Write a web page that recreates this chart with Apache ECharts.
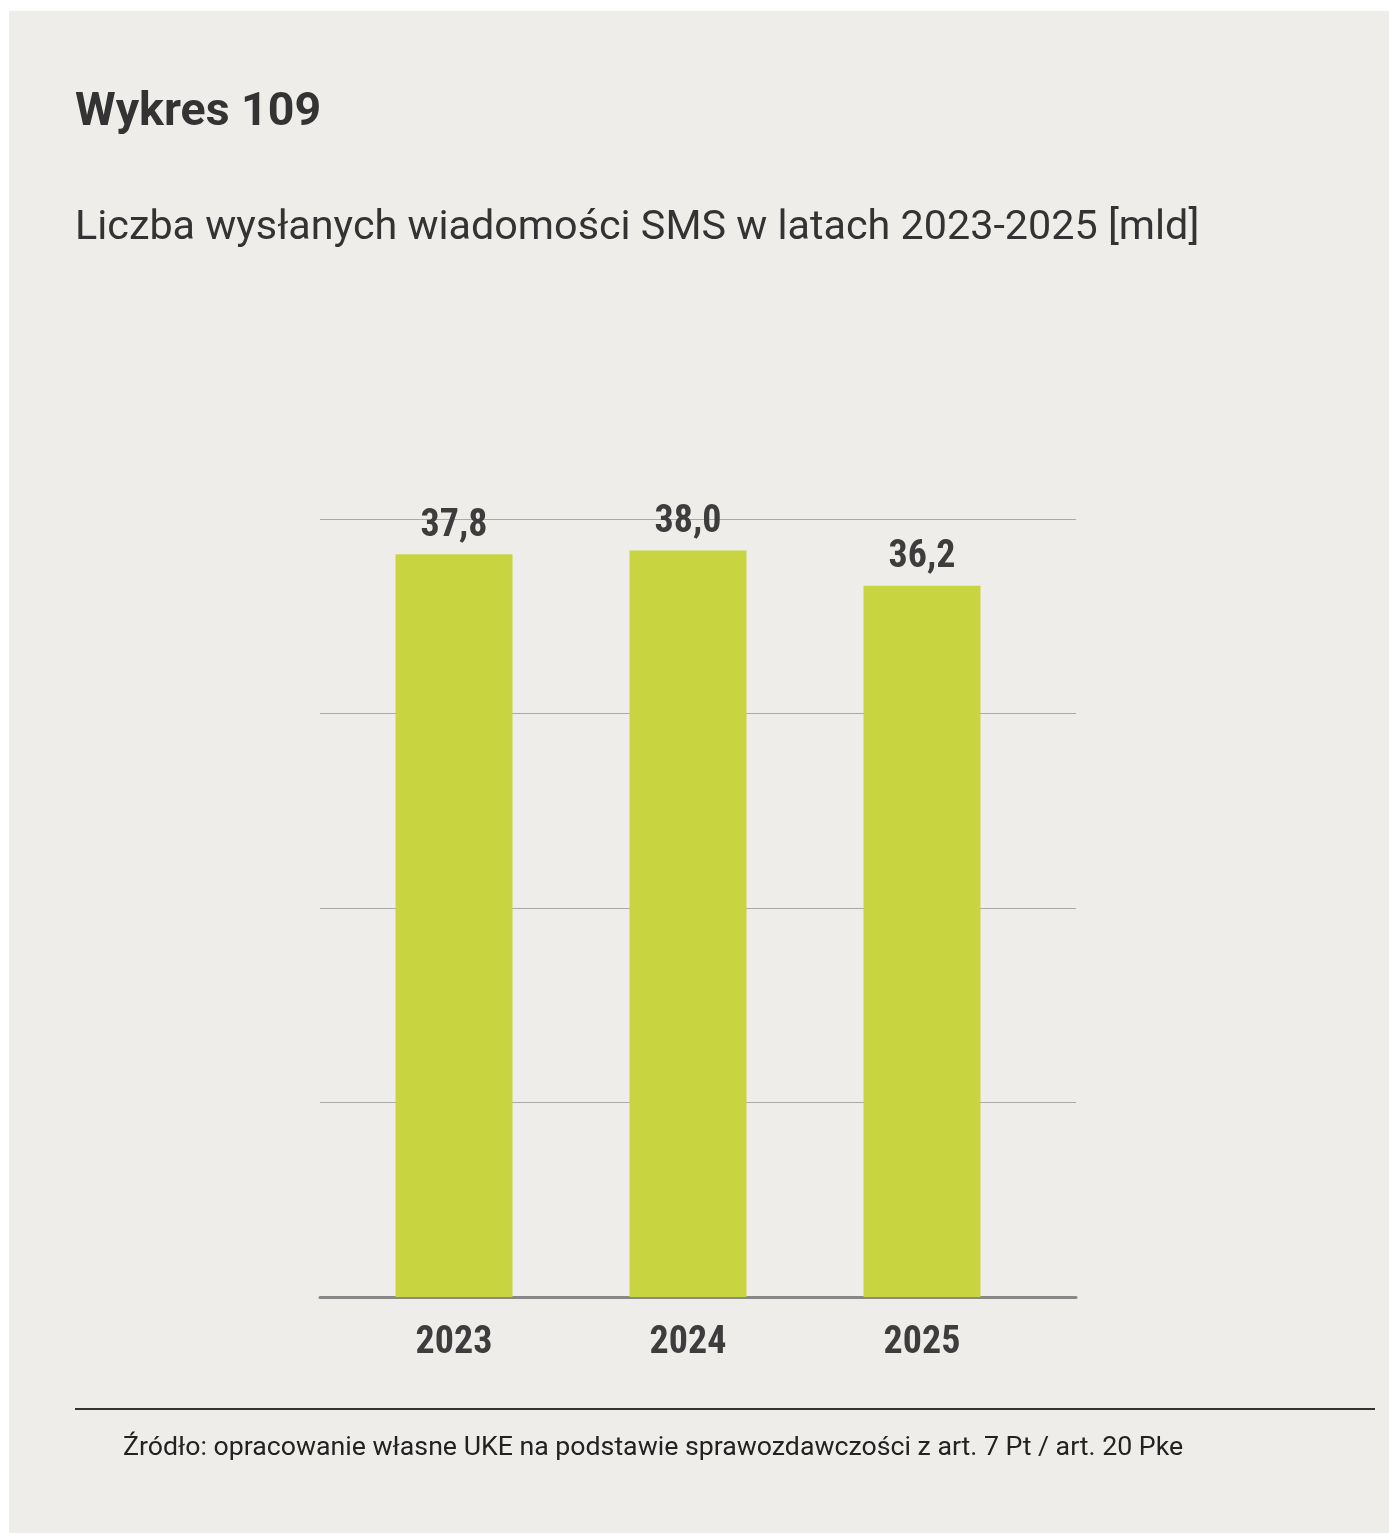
<!DOCTYPE html>
<html>
<head>
<meta charset="utf-8">
<script src="https://cdn.jsdelivr.net/npm/echarts@6/dist/echarts.min.js"></script>
<style>
html,body{margin:0;padding:0;background:#ffffff;}
#c{position:absolute;left:9px;top:11px;width:1380px;height:1522px;}
</style>
</head>
<body>
<div id="c"></div>
<script>
const categories = ['2023', '2024', '2025'];
const values = [37.8, 38.0, 36.2];
const axisMax = 39.6;
const axisInterval = 9.9;
const titleText = 'Wykres 109';
const subtitleText = 'Liczba wysłanych wiadomości SMS w latach 2023-2025 [mld]';
const sourceText = 'Źródło: opracowanie własne UKE na podstawie sprawozdawczości z art. 7 Pt / art. 20 Pke';

const numFont = '"Roboto Condensed", "Roboto", sans-serif';
const chart = echarts.init(document.getElementById('c'));
chart.setOption({
  backgroundColor: '#efedea',
  animation: false,
  title: [
    { text: titleText, left: 61, top: 74,
      textStyle: { fontFamily: 'Roboto', fontWeight: 'bold', fontSize: 46.5, color: '#333333' } },
    { text: subtitleText, left: 61, top: 192,
      textStyle: { fontFamily: 'Roboto', fontWeight: 'normal', fontSize: 41.3, color: '#333333' } },
    { text: sourceText, left: 109, top: 1419,
      textStyle: { fontFamily: 'Roboto', fontWeight: 'normal', fontSize: 26.7, color: '#222222' } }
  ],
  graphic: [
    { type: 'line', shape: { x1: 66, y1: 1398, x2: 1366, y2: 1398 },
      style: { stroke: '#333333', lineWidth: 2 }, silent: true }
  ],
  grid: [
    { left: 311, width: 756, top: 508, height: 778 },
    { left: 328, width: 702, top: 508, height: 778 }
  ],
  xAxis: [
    { type: 'category', gridIndex: 0, data: categories,
      axisLine: { show: true, lineStyle: { color: '#888888', width: 3 } },
      axisTick: { show: false }, axisLabel: { show: false }, splitLine: { show: false } },
    { type: 'category', gridIndex: 1, data: categories,
      axisLine: { show: false }, axisTick: { show: false },
      axisLabel: { show: true, margin: 27, fontFamily: numFont, fontWeight: 'bold', fontSize: 38, color: '#3d3d3d' } }
  ],
  yAxis: [
    { type: 'value', gridIndex: 0, min: 0, max: axisMax, interval: axisInterval,
      axisLine: { show: false }, axisTick: { show: false }, axisLabel: { show: false },
      splitLine: { show: true, lineStyle: { color: '#aaaaaa', width: 1 } } },
    { type: 'value', gridIndex: 1, min: 0, max: axisMax, interval: axisInterval,
      axisLine: { show: false }, axisTick: { show: false }, axisLabel: { show: false },
      splitLine: { show: false } }
  ],
  series: [
    { type: 'bar', xAxisIndex: 1, yAxisIndex: 1, data: values, barWidth: '50%',
      itemStyle: { color: '#c8d541' }, z: 1,
      label: { show: true, position: 'top', distance: 9,
        fontFamily: numFont, fontWeight: 'bold', fontSize: 38, color: '#3d3d3d',
        formatter: p => p.value.toFixed(1).replace('.', ',') } }
  ]
});
</script>
</body>
</html>
